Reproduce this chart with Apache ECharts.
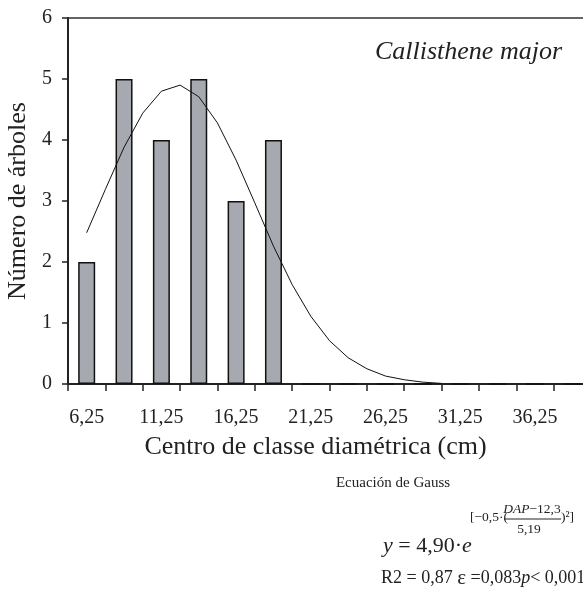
<!DOCTYPE html>
<html>
<head>
<meta charset="utf-8">
<script src="https://cdn.jsdelivr.net/npm/echarts@6/dist/echarts.min.js"></script>
<style>
  html, body { margin: 0; padding: 0; background: #fff; }
  #chart { width: 583px; height: 599px; }
</style>
</head>
<body>
<div id="chart"></div>
<script>
// diameter class centres (cm)
const categories = ['6,25', '8,75', '11,25', '13,75', '16,25', '18,75', '21,25',
  '23,75', '26,25', '28,75', '31,25', '33,75', '36,25', '38,75'];
// number of trees per class
const counts = [2, 5, 4, 5, 3, 4, 0, 0, 0, 0, 0, 0, 0, 0];
// fitted Gauss curve
const curveX = [6.25, 7.5, 8.75, 10, 11.25, 12.5, 13.75, 15, 16.25, 17.5, 18.75,
  20, 21.25, 22.5, 23.75, 25, 26.25, 27.5, 28.75, 30];
const curveY = [2.48, 3.19, 3.88, 4.44, 4.80, 4.90, 4.71, 4.28, 3.67, 2.97, 2.26,
  1.63, 1.11, 0.71, 0.43, 0.25, 0.13, 0.07, 0.03, 0.01];
const yTicks = [0, 1, 2, 3, 4, 5, 6];

const FONT = '"Liberation Serif", "Times New Roman", serif';
const chart = echarts.init(document.getElementById('chart'));

const option = {
  animation: false,
  backgroundColor: '#fff',
  textStyle: { fontFamily: FONT, color: '#222' },
  grid: { left: 68, top: 18, right: -8, bottom: 215, containLabel: false, outerBoundsMode: 'none' },
  xAxis: [
    {
      type: 'category',
      data: categories,
      boundaryGap: true,
      name: 'Centro de classe diamétrica (cm)',
      nameLocation: 'middle',
      nameGap: 50,
      nameTextStyle: { fontFamily: FONT, fontSize: 26, color: '#222', padding: [0, 28, 0, 0] },
      axisLine: { lineStyle: { color: '#222', width: 2 } },
      axisTick: { show: true, interval: 0, length: 7, lineStyle: { color: '#222', width: 1.5 } },
      axisLabel: { interval: 1, fontFamily: FONT, fontSize: 20, color: '#222', margin: 24 },
      splitLine: { show: false }
    },
    {
      type: 'value',
      min: 5,
      max: 40,
      position: 'top',
      axisLine: { show: true, onZero: false, lineStyle: { color: '#333', width: 1.5 } },
      axisTick: { show: false },
      axisLabel: { show: false },
      splitLine: { show: false }
    }
  ],
  yAxis: {
    type: 'value',
    min: yTicks[0],
    max: yTicks[yTicks.length - 1],
    interval: 1,
    name: 'Número de árboles',
    nameLocation: 'middle',
    nameGap: 30,
    nameTextStyle: { fontFamily: FONT, fontSize: 26, color: '#222' },
    axisLine: { show: true, lineStyle: { color: '#222', width: 2 } },
    axisTick: { show: true, length: 6, lineStyle: { color: '#222', width: 1.5 } },
    axisLabel: { fontFamily: FONT, fontSize: 20, color: '#222', margin: 16 },
    splitLine: { show: false }
  },
  series: [
    {
      type: 'bar',
      xAxisIndex: 0,
      data: counts,
      barWidth: 17,
      itemStyle: { color: '#a6a9b0', borderColor: '#111', borderWidth: 1.5 }
    },
    {
      type: 'line',
      xAxisIndex: 1,
      data: curveX.map((x, i) => [x, curveY[i]]),
      showSymbol: false,
      symbol: 'none',
      smooth: false,
      lineStyle: { color: '#111', width: 1 },
      z: 3
    }
  ],
  graphic: [
    {
      type: 'text',
      style: { text: 'Callisthene major', x: 562, y: 52, align: 'right', verticalAlign: 'middle',
        font: 'italic 26px ' + FONT, fill: '#222' }
    },
    {
      type: 'text',
      style: { text: 'Ecuación de Gauss', x: 393, y: 483, align: 'center', verticalAlign: 'middle',
        font: '15px ' + FONT, fill: '#222' }
    },
    {
      type: 'text',
      style: {
        text: '{i|y} = 4,90·{i|e}', x: 383, y: 546, align: 'left', verticalAlign: 'middle',
        font: '22px ' + FONT, fill: '#222',
        rich: { i: { fontStyle: 'italic', fontFamily: FONT, fontSize: 22, fill: '#222' } }
      }
    },
    {
      type: 'text',
      style: { text: '[−0,5·(', x: 470, y: 517, align: 'left', verticalAlign: 'middle',
        font: '13.5px ' + FONT, fill: '#222' }
    },
    {
      type: 'text',
      style: {
        text: '{i|DAP}−12,3', x: 532, y: 509, align: 'center', verticalAlign: 'middle',
        font: '13.5px ' + FONT, fill: '#222',
        rich: { i: { fontStyle: 'italic', fontFamily: FONT, fontSize: 13.5, fill: '#222' } }
      }
    },
    {
      type: 'line',
      shape: { x1: 504, y1: 519, x2: 561, y2: 519 },
      style: { stroke: '#222', lineWidth: 1 }
    },
    {
      type: 'text',
      style: { text: '5,19', x: 529, y: 529, align: 'center', verticalAlign: 'middle',
        font: '13.5px ' + FONT, fill: '#222' }
    },
    {
      type: 'text',
      style: { text: ')²]', x: 561, y: 517, align: 'left', verticalAlign: 'middle',
        font: '13.5px ' + FONT, fill: '#222' }
    },
    {
      type: 'text',
      style: {
        text: 'R2 = 0,87 {e|ε} =0,083{i|p}< 0,001', x: 381, y: 578, align: 'left', verticalAlign: 'middle',
        font: '18px ' + FONT, fill: '#222',
        rich: {
          i: { fontStyle: 'italic', fontFamily: FONT, fontSize: 18, fill: '#222' },
          e: { fontFamily: FONT, fontSize: 21, fill: '#222' }
        }
      }
    }
  ]
};

chart.setOption(option);
</script>
</body>
</html>
